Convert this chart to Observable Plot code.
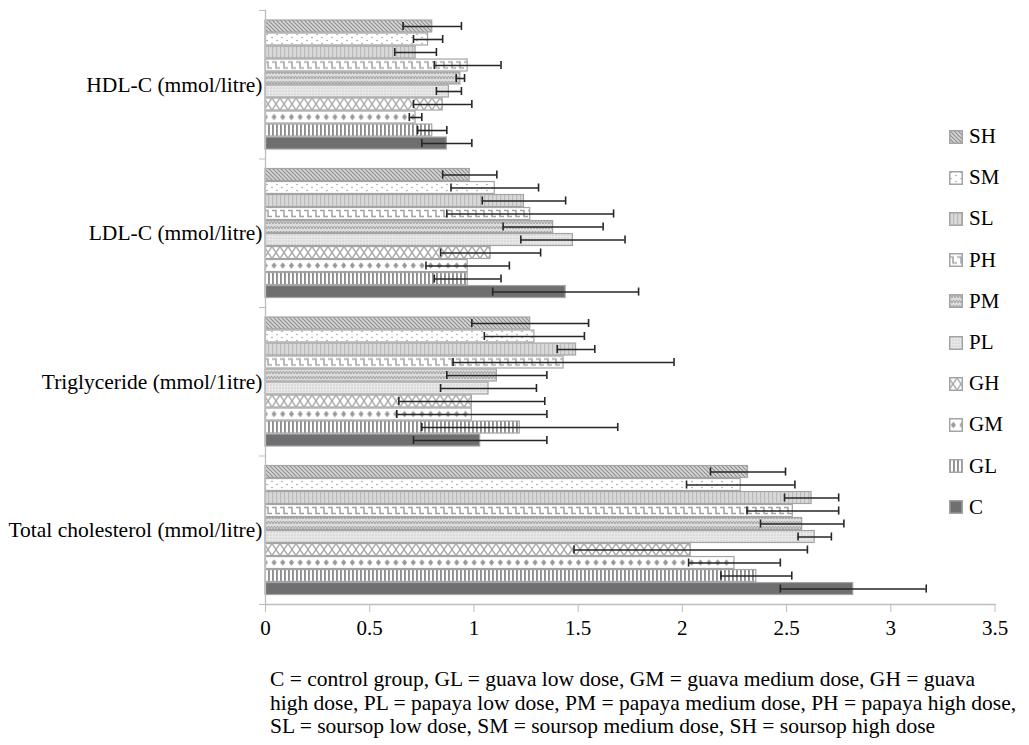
<!DOCTYPE html>
<html><head><meta charset="utf-8">
<script src="https://cdn.jsdelivr.net/npm/d3@7"></script>
<script src="https://cdn.jsdelivr.net/npm/@observablehq/plot@0.6"></script>
<style>
body{margin:0;background:#fff;font-family:"Liberation Serif","Times New Roman",serif;color:#000;}
#wrap{position:relative;width:1029px;height:745px;overflow:hidden;}
#legend{position:absolute;left:949px;top:116px;}
.item{display:flex;align-items:center;height:41.2px;font-size:21px;white-space:nowrap;}
.item svg{margin-right:6px;display:block;}
#caption{position:absolute;left:270px;top:668px;font-size:21.5px;line-height:23.5px;white-space:nowrap;}
</style></head><body>
<svg style="position:absolute;width:0;height:0" aria-hidden="true">
<defs id="defs">
<pattern id="p-SH" width="4" height="4" patternUnits="userSpaceOnUse"><rect width="4" height="4" fill="#d6d6d6"/><path d="M-1,-1L5,5M-1,3L1,5M3,-1L5,1" stroke="#8e8e8e" stroke-width="1.1"/></pattern>
<pattern id="p-SM" width="10" height="6" patternUnits="userSpaceOnUse"><rect width="10" height="6" fill="#fff"/><circle cx="2" cy="1.5" r="0.8" fill="#a0a0a0"/><circle cx="7" cy="4.5" r="0.8" fill="#a0a0a0"/></pattern>
<pattern id="p-SL" width="4" height="4" patternUnits="userSpaceOnUse"><rect width="4" height="4" fill="#d8d8d8"/><rect x="0" width="1.2" height="4" fill="#bcbcbc"/></pattern>
<pattern id="p-PM" width="6" height="5" patternUnits="userSpaceOnUse"><rect width="6" height="5" fill="#dcdcdc"/><path d="M0,4L1.5,1L3,4L4.5,1L6,4" fill="none" stroke="#a2a2a2" stroke-width="1"/></pattern>
<pattern id="p-PL" width="3" height="3" patternUnits="userSpaceOnUse"><rect width="3" height="3" fill="#e8e8e8"/><circle cx="1" cy="1" r="0.6" fill="#b0b0b0"/></pattern>
<pattern id="p-GL" width="4" height="4" patternUnits="userSpaceOnUse"><rect width="4" height="4" fill="#fff"/><rect x="0" width="1.9" height="4" fill="#8f8f8f"/></pattern>
<pattern id="p-C" width="4" height="4" patternUnits="userSpaceOnUse"><rect width="4" height="4" fill="#6f6f71"/></pattern>
</defs>
</svg>
<div id="wrap"><div id="chart"></div><div id="legend"></div><div id="caption"></div></div>
<script>
// ---- data ----
const categories = ["HDL-C (mmol/litre)", "LDL-C (mmol/litre)", "Triglyceride (mmol/1itre)", "Total cholesterol (mmol/litre)"];
const series = ["SH", "SM", "SL", "PH", "PM", "PL", "GH", "GM", "GL", "C"];
const hdlMean = [0.80, 0.78, 0.72, 0.97, 0.935, 0.88, 0.85, 0.72, 0.80, 0.87];
const hdlSE   = [0.14, 0.07, 0.10, 0.16, 0.02, 0.06, 0.14, 0.03, 0.07, 0.12];
const ldlMean = [0.98, 1.10, 1.24, 1.27, 1.38, 1.475, 1.08, 0.97, 0.97, 1.44];
const ldlSE   = [0.13, 0.21, 0.20, 0.40, 0.24, 0.25, 0.24, 0.20, 0.16, 0.35];
const tgMean  = [1.27, 1.29, 1.49, 1.43, 1.11, 1.07, 0.99, 0.99, 1.22, 1.03];
const tgSE    = [0.28, 0.24, 0.09, 0.53, 0.24, 0.23, 0.35, 0.36, 0.47, 0.32];
const tcMean  = [2.315, 2.28, 2.62, 2.53, 2.575, 2.635, 2.04, 2.25, 2.355, 2.82];
const tcSE    = [0.18, 0.26, 0.13, 0.22, 0.20, 0.08, 0.56, 0.22, 0.17, 0.35];
const xTicks  = [0, 0.5, 1, 1.5, 2, 2.5, 3, 3.5];
const captionLines = [
  "C = control group, GL = guava low dose, GM = guava medium dose, GH = guava",
  "high dose, PL = papaya low dose, PM = papaya medium dose, PH = papaya high dose,",
  "SL = soursop low dose, SM = soursop medium dose, SH = soursop high dose"
];

// ---- layout helpers (slot units) ----
const S = 11.42, OFF = 1.23, HALF = 0.46, CAP = 0.31;
const means = [hdlMean, ldlMean, tgMean, tcMean];
const ses = [hdlSE, ldlSE, tgSE, tcSE];
const data = [];
categories.forEach((cat, g) => series.forEach((s, i) => {
  data.push({cat, g, s, pos: g * S + OFF + i, mean: means[g][i], se: ses[g][i]});
}));
const centers = categories.map((c, g) => g * S + S / 2);
const bounds = d3.range(categories.length + 1).map(g => g * S);

// patterns that must line up with each bar's centre
const TILE = 13;
const aligned = {
  PH: {w: 8, body: `<rect width="8" height="${TILE}" fill="#fff"/><path d="M0,3.6H4V9.4H8" fill="none" stroke="#a2a2a2" stroke-width="1.5"/>`},
  GH: {w: 8, body: `<rect width="8" height="${TILE}" fill="#fff"/><path d="M0,0.5L8,12.5M8,0.5L0,12.5" stroke="#ababab" stroke-width="1.4"/>`},
  GM: {w: 8.7, body: `<rect width="8.7" height="${TILE}" fill="#fff"/><path d="M4.35,3.2L6.9,6.5L4.35,9.8L1.8,6.5Z" fill="#999"/>`}
};
const fillOf = (s, g) => aligned[s] ? `url(#p-${s}-${g})` : `url(#p-${s})`;

const bars = [];
categories.forEach((c, g) => series.forEach(s => {
  bars.push(Plot.rectX(data.filter(d => d.s === s && d.g === g), {
    x1: 0, x2: "mean",
    y1: d => d.pos - HALF, y2: d => d.pos + HALF,
    fill: fillOf(s, g), stroke: "#a4a4a4", strokeWidth: 1.2
  }));
}));

const chart = Plot.plot({
  width: 1029, height: 645,
  marginLeft: 265, marginRight: 34.5, marginTop: 10, marginBottom: 41,
  style: {fontFamily: "Liberation Serif, Times New Roman, serif", fontSize: "21px", color: "#000", background: "#fff"},
  x: {domain: [0, 3.5]},
  y: {domain: [0, categories.length * S], range: [10, 604]},
  marks: [
    ...bars,
    Plot.ruleY(data, {y: "pos", x1: d => d.mean - d.se, x2: d => d.mean + d.se, stroke: "#262626", strokeWidth: 1.6}),
    Plot.ruleX(data, {x: d => d.mean - d.se, y1: d => d.pos - CAP, y2: d => d.pos + CAP, stroke: "#262626", strokeWidth: 1.6}),
    Plot.ruleX(data, {x: d => d.mean + d.se, y1: d => d.pos - CAP, y2: d => d.pos + CAP, stroke: "#262626", strokeWidth: 1.6}),
    Plot.frame({anchor: "left", stroke: "#bdbdbd", strokeWidth: 1.3}),
    Plot.frame({anchor: "bottom", stroke: "#bdbdbd", strokeWidth: 1.3}),
    Plot.axisX({ticks: xTicks, tickFormat: d => String(d), tickSize: 8, tickPadding: 8, stroke: "#bdbdbd", fontSize: 21, label: null}),
    Plot.axisY({ticks: bounds, tickFormat: () => "", tickSize: 6, stroke: "#bdbdbd", label: null}),
    Plot.axisY({ticks: centers, tickFormat: (d, k) => categories[k], tickSize: 0, tickPadding: 3, fontSize: 21.5, label: null})
  ]
});
document.getElementById("chart").appendChild(chart);

// build bar-aligned patterns from the plot's own y scale
const yScale = chart.scale("y");
const defs = document.getElementById("defs");
const NS = "http://www.w3.org/2000/svg";
function addPattern(id, w, y, body) {
  const p = document.createElementNS(NS, "pattern");
  p.setAttribute("id", id);
  p.setAttribute("patternUnits", "userSpaceOnUse");
  p.setAttribute("width", w);
  p.setAttribute("height", TILE);
  p.setAttribute("y", y);
  p.innerHTML = body;
  defs.appendChild(p);
}
Object.entries(aligned).forEach(([s, p]) => {
  const i = series.indexOf(s);
  categories.forEach((c, g) => addPattern(`p-${s}-${g}`, p.w, yScale.apply(g * S + OFF + i) - TILE / 2, p.body));
  addPattern(`p-${s}-L`, p.w, 0.5, p.body);
});

// ---- legend ----
const legend = document.getElementById("legend");
series.forEach(s => {
  const item = document.createElement("div");
  item.className = "item";
  const f = aligned[s] ? `url(#p-${s}-L)` : `url(#p-${s})`;
  item.innerHTML = `<svg width="14" height="14"><rect x="0.75" y="0.75" width="12.5" height="12.5" fill="${f}" stroke="#a4a4a4" stroke-width="1.5"/></svg><span>${s}</span>`;
  legend.appendChild(item);
});

// ---- caption ----
const cap = document.getElementById("caption");
captionLines.forEach(t => { const d = document.createElement("div"); d.textContent = t; cap.appendChild(d); });
</script>
</body></html>
